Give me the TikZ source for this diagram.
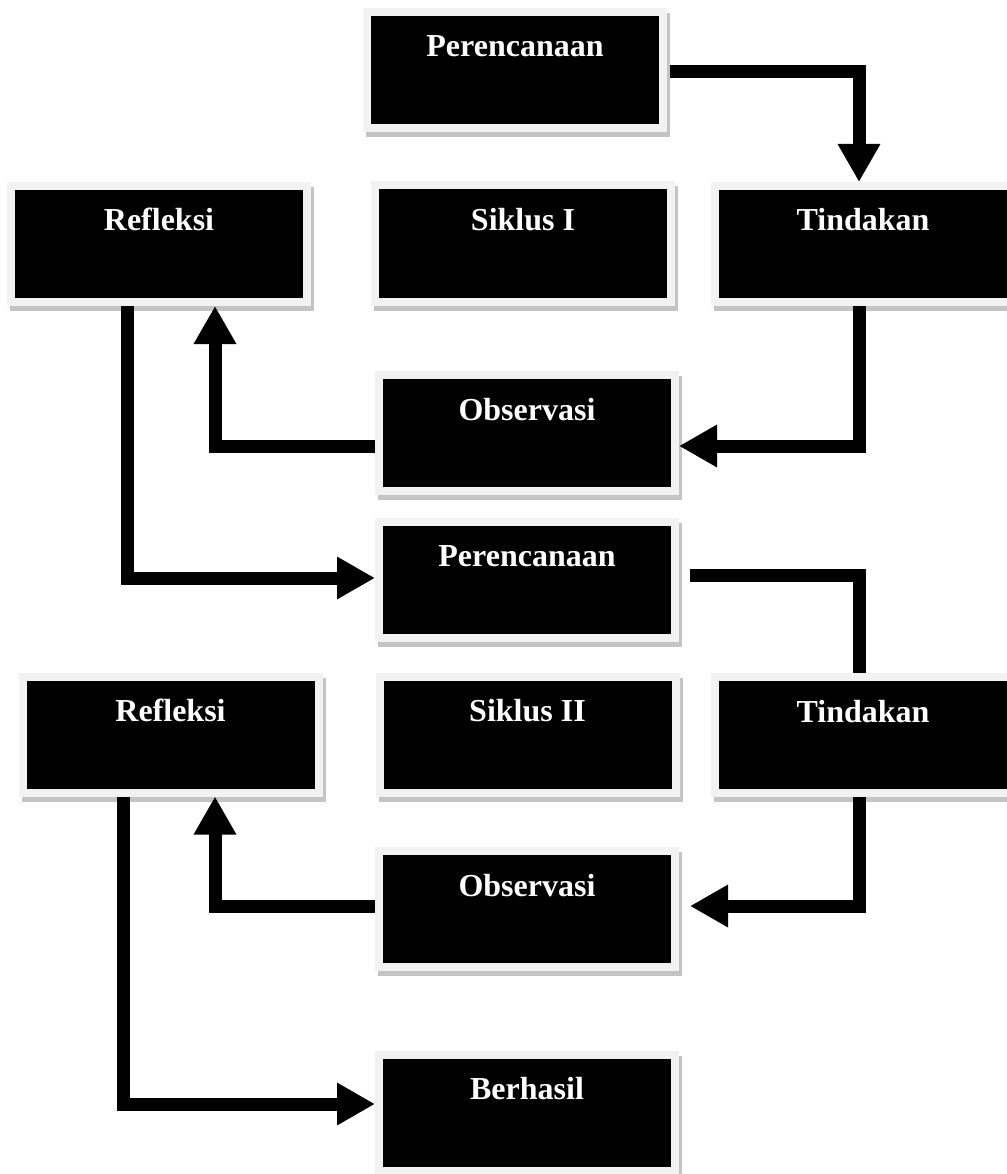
\documentclass[tikz,border=0pt]{standalone}
\usepackage{fontspec}
\setmainfont{Liberation Serif}
\usetikzlibrary{positioning, arrows.meta}
\usepackage{xcolor}
\definecolor{rim}{HTML}{F2F2F2}
\definecolor{shade}{HTML}{C4C4C4}

\begin{document}
\begin{tikzpicture}[
        x=1pt, y=-1pt,
        box/.style={
            rectangle,
            minimum width=296pt,
            minimum height=116pt,
            inner sep=0pt,
            fill=black,
            draw=rim,
            line width=8pt,
            text=white,
            font=\fontsize{32pt}{38pt}\selectfont\bfseries,
            text height=24pt,
            text depth=50pt,
            preaction={draw=shade, fill=shade, line width=8pt,
                transform canvas={shift={(3,5)}}}
        },
        flow/.style={line width=13pt, draw=black},
        >={Triangle[length=38pt,width=40pt]}
    ]
        \useasboundingbox[fill=white] (0,0) rectangle (1006,1174);

        % Siklus I
        \node[box] (P1) at (515,70) {Perencanaan};
        \node[box] (R1) at (159,244) {Refleksi};
        \node[box] (S1) at (523,243.5) {Siklus I};
        \node[box] (T1) at (863,244) {Tindakan};
        \node[box] (O1) at (527,433) {Observasi};

        % Siklus II
        \node[box] (P2) at (527,579.5) {Perencanaan};
        \node[box] (R2) at (170.5,734.5) {Refleksi};
        \node[box] (S2) at (527.5,734.5) {Siklus II};
        \node[box] (T2) at (863,735) {Tindakan};
        \node[box] (O2) at (527,909) {Observasi};
        \node[box] (B) at (527,1112.5) {Berhasil};

        % arrows of the first cycle
        \draw[flow, ->] ([xshift=3pt, yshift=-2pt]P1.east) -| ([xshift=-4pt]T1.north);
        \draw[flow, ->] ([xshift=-4pt]T1.south) |- ([yshift=-13pt]O1.east);
        \draw[flow, ->] ([yshift=-13pt]O1.west) -| ([xshift=56pt]R1.south);
        \draw[flow, ->] ([xshift=-32pt]R1.south) |- ([yshift=1.5pt]P2.west);

        % arrows of the second cycle
        \draw[flow] ([xshift=11pt, yshift=4.5pt]P2.east) -| ([xshift=-4pt]T2.north);
        \draw[flow, ->] ([xshift=-4pt]T2.south) |- ([xshift=11pt, yshift=3pt]O2.east);
        \draw[flow, ->] ([yshift=3pt]O2.west) -| ([xshift=44.5pt]R2.south);
        \draw[flow, ->] ([xshift=-47.5pt]R2.south) |- ([yshift=8.5pt]B.west);
    \end{tikzpicture}
\end{document}
